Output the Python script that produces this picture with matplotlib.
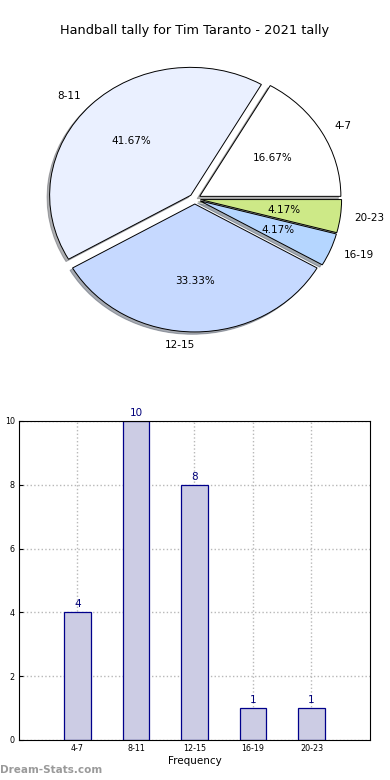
import numpy as np
import matplotlib
matplotlib.use("Agg")
import matplotlib.pyplot as plt

# data
categories = ["4-7", "8-11", "12-15", "16-19", "20-23"]
counts = [4, 10, 8, 1, 1]
slice_colors = ["#ffffff", "#eaf0ff", "#c6d9ff", "#b5d6ff", "#cde987"]
title = "Handball tally for Tim Taranto - 2021 tally"

fig = plt.figure(figsize=(3.9, 7.8), dpi=100)

# pie on top
ax1 = fig.add_axes([0.047, 0.54, 0.905, 0.41])
wedges, texts, autotexts = ax1.pie(counts, labels=categories, colors=slice_colors,
                                   explode=[0.04] * len(counts), autopct='%1.2f%%',
                                   shadow={'ox': -0.013, 'oy': -0.013, 'shade': 0.6},
                                   startangle=0,
                                   wedgeprops={'edgecolor': 'black', 'linewidth': 0.7},
                                   textprops={'fontsize': 7.5})
# old-style label alignment for the bottom slice
texts[2].set_horizontalalignment('right')
ax1.set_aspect('auto')
ax1.set_xlim(-1.25, 1.25)
ax1.set_ylim(-1.25, 1.25)
fig.text(0.5, 0.961, title, ha='center', va='center', fontsize=9.3)

# bar chart below
ax2 = fig.add_axes([0.0487, 0.0513, 0.9, 0.409])
x = np.arange(len(categories))
ax2.bar(x, counts, width=0.45, color="#ccccE4", edgecolor="#00008b", linewidth=0.9, zorder=2)
for xi, c in zip(x, counts):
    ax2.text(xi, c + 0.1, str(c), ha='center', va='bottom', fontsize=7.5, color="#00007a")
ax2.set_xlim(-1, 5)
ax2.set_ylim(0, 10)
ax2.set_xticks(x)
ax2.set_xticklabels(categories)
ax2.set_yticks([0, 2, 4, 6, 8, 10])
ax2.tick_params(direction='in', labelsize=5.8, length=3, pad=3)
ax2.grid(True, linestyle=':', color='#b8b8b8', linewidth=1, zorder=0)
ax2.set_axisbelow(True)
ax2.set_xlabel("Frequency", fontsize=7.5, labelpad=2)
ax2.set_ylabel("Goals Per Game", fontsize=7)
ax2.yaxis.set_label_coords(-0.058, 0.5)

fig.text(0.0, 0.013, "Dream-Stats.com", fontsize=7.5, color="#9a9a9a",
         fontweight='bold', ha='left', va='center')

fig.savefig("out.png", dpi=100)
